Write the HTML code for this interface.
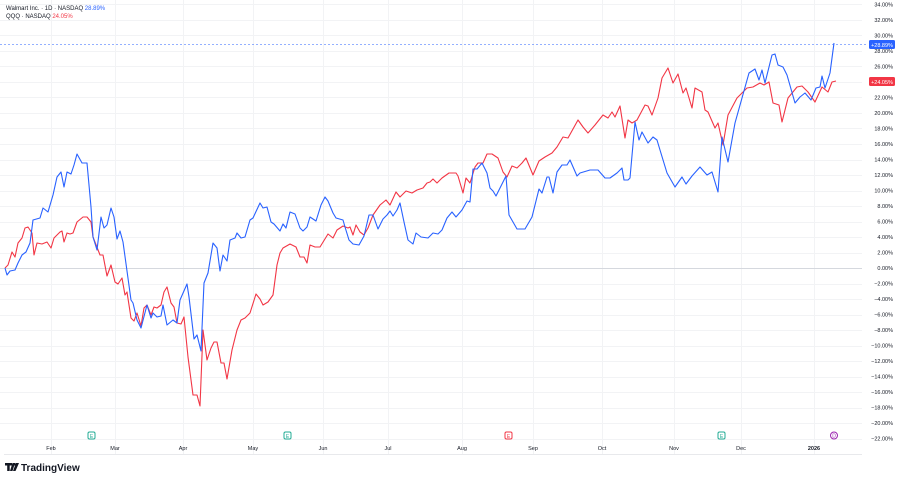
<!DOCTYPE html>
<html><head><meta charset="utf-8"><style>
body{margin:0;background:#fff;font-family:"Liberation Sans",sans-serif}
svg{display:block}
</style></head><body>
<svg width="901" height="481" xmlns="http://www.w3.org/2000/svg" font-family="Liberation Sans, sans-serif">
<rect width="901" height="481" fill="#fff"/>
<g stroke="#f2f3f5" stroke-width="1">
<line x1="0" y1="4.5" x2="862" y2="4.5"/><line x1="0" y1="20.5" x2="862" y2="20.5"/><line x1="0" y1="35.5" x2="862" y2="35.5"/><line x1="0" y1="51.5" x2="862" y2="51.5"/><line x1="0" y1="66.5" x2="862" y2="66.5"/><line x1="0" y1="82.5" x2="862" y2="82.5"/><line x1="0" y1="97.5" x2="862" y2="97.5"/><line x1="0" y1="113.5" x2="862" y2="113.5"/><line x1="0" y1="128.5" x2="862" y2="128.5"/><line x1="0" y1="144.5" x2="862" y2="144.5"/><line x1="0" y1="160.5" x2="862" y2="160.5"/><line x1="0" y1="175.5" x2="862" y2="175.5"/><line x1="0" y1="191.5" x2="862" y2="191.5"/><line x1="0" y1="206.5" x2="862" y2="206.5"/><line x1="0" y1="222.5" x2="862" y2="222.5"/><line x1="0" y1="237.5" x2="862" y2="237.5"/><line x1="0" y1="253.5" x2="862" y2="253.5"/><line x1="0" y1="284.5" x2="862" y2="284.5"/><line x1="0" y1="299.5" x2="862" y2="299.5"/><line x1="0" y1="315.5" x2="862" y2="315.5"/><line x1="0" y1="330.5" x2="862" y2="330.5"/><line x1="0" y1="346.5" x2="862" y2="346.5"/><line x1="0" y1="361.5" x2="862" y2="361.5"/><line x1="0" y1="377.5" x2="862" y2="377.5"/><line x1="0" y1="392.5" x2="862" y2="392.5"/><line x1="0" y1="408.5" x2="862" y2="408.5"/><line x1="0" y1="423.5" x2="862" y2="423.5"/><line x1="0" y1="439.5" x2="862" y2="439.5"/>
<line x1="51.5" y1="0" x2="51.5" y2="454"/><line x1="115.5" y1="0" x2="115.5" y2="454"/><line x1="183.5" y1="0" x2="183.5" y2="454"/><line x1="253.5" y1="0" x2="253.5" y2="454"/><line x1="323.5" y1="0" x2="323.5" y2="454"/><line x1="388.5" y1="0" x2="388.5" y2="454"/><line x1="462.5" y1="0" x2="462.5" y2="454"/><line x1="533.5" y1="0" x2="533.5" y2="454"/><line x1="602.5" y1="0" x2="602.5" y2="454"/><line x1="674.5" y1="0" x2="674.5" y2="454"/><line x1="741.5" y1="0" x2="741.5" y2="454"/><line x1="814.5" y1="0" x2="814.5" y2="454"/>
</g>
<line x1="0" y1="268.5" x2="862" y2="268.5" stroke="#d5d8de"/>
<line x1="4" y1="454.5" x2="862" y2="454.5" stroke="#e8e9ec"/>
<line x1="0" y1="44.5" x2="868" y2="44.5" stroke="#2962ff" stroke-opacity="0.5" stroke-dasharray="2,2"/>
<g font-size="5.5" fill="#131722" text-anchor="end">
<text x="893" y="6.5">34.00%</text><text x="893" y="22">32.00%</text><text x="893" y="37.5">30.00%</text><text x="893" y="53">28.00%</text><text x="893" y="68.5">26.00%</text><text x="893" y="99.5">22.00%</text><text x="893" y="115">20.00%</text><text x="893" y="130.5">18.00%</text><text x="893" y="146">16.00%</text><text x="893" y="161.5">14.00%</text><text x="893" y="177">12.00%</text><text x="893" y="192.5">10.00%</text><text x="893" y="208">8.00%</text><text x="893" y="223.5">6.00%</text><text x="893" y="239">4.00%</text><text x="893" y="254.5">2.00%</text><text x="893" y="270">0.00%</text><text x="893" y="285.5">−2.00%</text><text x="893" y="301">−4.00%</text><text x="893" y="316.5">−6.00%</text><text x="893" y="332">−8.00%</text><text x="893" y="347.5">−10.00%</text><text x="893" y="363">−12.00%</text><text x="893" y="378.5">−14.00%</text><text x="893" y="394">−16.00%</text><text x="893" y="409.5">−18.00%</text><text x="893" y="425">−20.00%</text><text x="893" y="440.5">−22.00%</text>
</g>
<rect x="869" y="40" width="26" height="9" rx="1.5" fill="#2962ff"/><text x="882" y="46.8" font-size="5.5" fill="#fff" text-anchor="middle">+28.89%</text>
<rect x="869" y="77" width="26" height="9" rx="1.5" fill="#f23645"/><text x="882" y="83.8" font-size="5.5" fill="#fff" text-anchor="middle">+24.05%</text>
<g font-size="5.5" fill="#131722" text-anchor="middle">
<text x="51" y="450">Feb</text><text x="115" y="450">Mar</text><text x="183" y="450">Apr</text><text x="253" y="450">May</text><text x="323" y="450">Jun</text><text x="388" y="450">Jul</text><text x="462" y="450">Aug</text><text x="533" y="450">Sep</text><text x="602" y="450">Oct</text><text x="674" y="450">Nov</text><text x="741" y="450">Dec</text><text x="814" y="450" font-weight="bold">2026</text>
</g>
<g font-size="5" text-anchor="middle">
<rect x="88" y="432" width="7" height="7" rx="1.5" fill="none" stroke="#22ab94"/><text x="91.5" y="437.8" fill="#22ab94">E</text>
<rect x="284" y="432" width="7" height="7" rx="1.5" fill="none" stroke="#22ab94"/><text x="287.5" y="437.8" fill="#22ab94">E</text>
<rect x="505" y="432" width="7" height="7" rx="1.5" fill="none" stroke="#f23645"/><text x="508.5" y="437.8" fill="#f23645">E</text>
<rect x="718" y="432" width="7" height="7" rx="1.5" fill="none" stroke="#22ab94"/><text x="721.5" y="437.8" fill="#22ab94">E</text>
<circle cx="834" cy="435.5" r="3.5" fill="none" stroke="#9c27b0"/><text x="834" y="437.5" fill="#9c27b0">D</text>
</g>
<text x="6" y="10" font-size="6" fill="#131722">Walmart Inc. · 1D · NASDAQ <tspan fill="#2962ff">28.89%</tspan></text>
<text x="6" y="18" font-size="6" fill="#131722">QQQ · NASDAQ <tspan fill="#f23645">24.05%</tspan></text>
<polyline fill="none" stroke="#f23645" stroke-width="1.1" stroke-linejoin="round" points="5,268 8,265 12,252 15,257 18,243 22,238 25,228 28,227 32,233 34,255 37,243 42,244 47,242 51,248 54,238 60,232 62,231 64,242 67,233 70,234 73,233 77,222 83,217 87,217 91,222 93,237 100,255 103,255 107,276 111,265 115,282 118,284 122,278 125,295 127,292 131,318 134,321 137,313 141,326 144,308 147,305 151,315 154,307 157,308 161,305 164,292 167,287 171,303 174,307 177,323 181,324 184,317 188,357 193,395 197,395 200,406 203,330 207,360 211,348 214,342 217,342 221,363 224,363 227,379 232,350 237,330 241,320 245,318 250,313 256,294 260,299 263,305 268,302 273,295 277,265 280,253 283,248 290,244 296,247 300,257 304,257 307,263 310,245 315,247 320,247 328,234 333,238 337,230 343,226 348,228 350,227 353,235 356,225 360,232 364,235 368,228 373,215 380,205 386,200 390,205 396,192 400,197 406,191 412,193 417,190 423,188 427,183 430,182 433,179 437,183 442,178 449,173 456,173 458,176 463,193 466,178 470,183 475,167 478,163 483,163 487,154 492,154 498,158 503,172 507,177 512,166 517,168 522,163 526,158 533,175 539,161 545,157 552,153 557,147 560,142 563,137 568,138 578,120 583,127 588,133 595,125 603,115 608,118 612,112 615,117 620,106 625,138 628,120 632,123 637,120 645,105 648,106 652,115 658,98 662,78 668,68 673,83 678,74 683,93 686,88 692,108 695,88 702,92 705,110 708,112 715,128 718,123 723,145 728,115 737,98 742,93 747,88 753,87 760,83 764,85 769,82 773,103 779,105 782,122 788,98 797,87 802,86 808,92 815,102 822,87 828,92 832,82 836,81"/>
<polyline fill="none" stroke="#2962ff" stroke-width="1.1" stroke-linejoin="round" points="5,268 7,275 10,271 15,270 18,263 22,255 26,252 30,243 33,220 40,218 43,208 48,212 53,195 57,177 61,172 64,187 67,172 71,174 74,165 77,154 82,163 87,163 91,207 93,237 97,250 101,217 104,228 107,225 111,208 114,217 117,239 120,231 123,242 131,300 133,303 137,320 141,328 147,305 151,318 153,313 157,317 161,316 163,305 167,325 173,320 177,323 180,300 187,284 189,297 194,339 197,335 201,351 204,283 208,273 213,243 217,248 220,271 223,255 227,261 230,240 235,238 237,233 241,238 245,237 250,220 253,218 260,203 263,208 267,207 271,222 274,224 280,231 283,224 286,228 290,212 295,214 300,228 303,231 307,227 310,217 316,221 321,205 325,197 328,201 333,213 336,218 343,220 345,227 349,240 353,244 359,245 364,236 369,215 373,215 378,229 383,219 387,215 390,211 393,216 397,210 400,203 404,222 408,240 413,244 416,233 421,237 428,238 433,233 438,234 442,230 447,218 452,212 456,217 462,210 467,201 470,202 473,169 477,169 482,163 487,173 490,188 493,191 496,196 503,182 506,176 509,215 517,229 525,229 532,217 539,189 542,193 547,177 549,177 553,193 557,172 562,165 567,165 570,160 577,176 580,173 590,170 598,170 605,178 610,178 617,173 622,168 624,180 628,180 630,178 635,122 639,140 642,132 648,143 653,137 657,140 660,150 667,173 675,187 682,177 686,184 692,176 700,167 707,175 712,172 718,192 722,137 728,162 735,123 742,98 749,73 755,69 759,80 762,70 765,83 772,55 775,54 778,65 783,67 787,75 795,103 800,97 805,93 811,100 816,88 820,87 822,76 825,88 830,73 834,43"/>
<g transform="translate(5,463)">
<path d="M0 0h7v2.5h-2.3v5.5h-2.5v-5.5h-2.2z M7.5 0h2.5l-2.5 8h-2.5z" fill="#131722"/>
<circle cx="9.6" cy="1.3" r="1.3" fill="#131722"/>
<path d="M11 0h3l-3.5 8h-2.5z" fill="#131722"/>
<text x="16" y="7.8" font-size="10" font-weight="bold" fill="#131722">TradingView</text>
</g>
</svg>
</body></html>
